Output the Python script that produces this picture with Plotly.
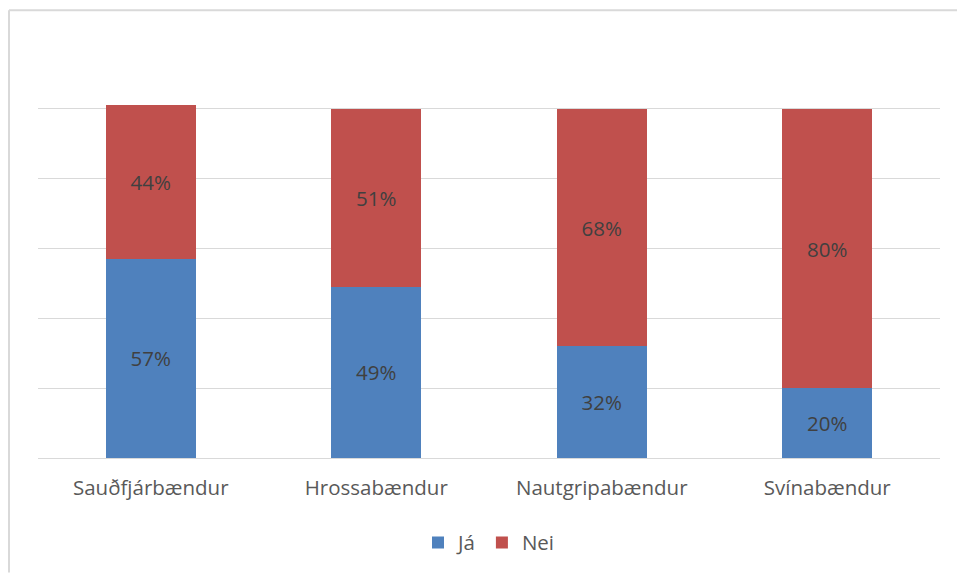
import plotly.graph_objects as go

categories = ["Sauðfjárbændur", "Hrossabændur", "Nautgripabændur", "Svínabændur"]
ja_values = [57, 49, 32, 20]
nei_values = [44, 51, 68, 80]
series_names = ["Já", "Nei"]
colors = ["#4f81bd", "#c0504d"]

W, H = 957, 575
ml, mr, mt, mb = 38, 17, 39, 115
plot_w = W - ml - mr
plot_h = H - mt - mb
FONT = "Open Sans, sans-serif"

fig = go.Figure()
for name, vals, col in zip(series_names, [ja_values, nei_values], colors):
    fig.add_trace(go.Bar(
        x=categories, y=vals, name=name,
        marker=dict(color=col, line=dict(width=0)),
        text=[f"{v}%" for v in vals],
        textposition="inside", insidetextanchor="middle",
        textfont=dict(family=FONT, size=20.5, color="#404040"),
        hoverinfo="skip",
    ))

# outer chart frame: top and left edges, kept inside the page
fx0 = (9 - ml) / plot_w
fx1 = (W - ml) / plot_w
fy0 = -mb / plot_h
fy1 = (H - mb - 10) / plot_h
frame = dict(color="#d9d9d9", width=2)
fig.add_shape(type="line", xref="paper", yref="paper",
              x0=fx0, x1=fx1, y0=fy1, y1=fy1, line=frame, layer="below")
fig.add_shape(type="line", xref="paper", yref="paper",
              x0=fx0, x1=fx0, y0=fy0, y1=fy1, line=frame, layer="below")

fig.update_layout(
    width=W, height=H,
    margin=dict(l=ml, r=mr, t=mt, b=mb),
    barmode="stack", bargap=0.6,
    paper_bgcolor="white", plot_bgcolor="white",
    font=dict(family=FONT, color="#595959"),
    showlegend=True,
    legend=dict(orientation="h", x=0.5, xanchor="center",
                y=(H - mb - 545) / plot_h, yanchor="middle",
                font=dict(size=20.5, color="#595959"), itemwidth=30,
                traceorder="normal"),
    uniformtext=dict(mode=False),
)
fig.update_xaxes(showline=True, linecolor="#d9d9d9", linewidth=1, showgrid=False,
                 ticks="", tickfont=dict(size=20.5, color="#595959"),
                 ticklabelstandoff=11)
fig.update_yaxes(range=[0, 120], dtick=20, showticklabels=False,
                 showgrid=True, gridcolor="#d9d9d9", gridwidth=1, zeroline=False)

fig.write_html("out.html", config={"displayModeBar": False})
